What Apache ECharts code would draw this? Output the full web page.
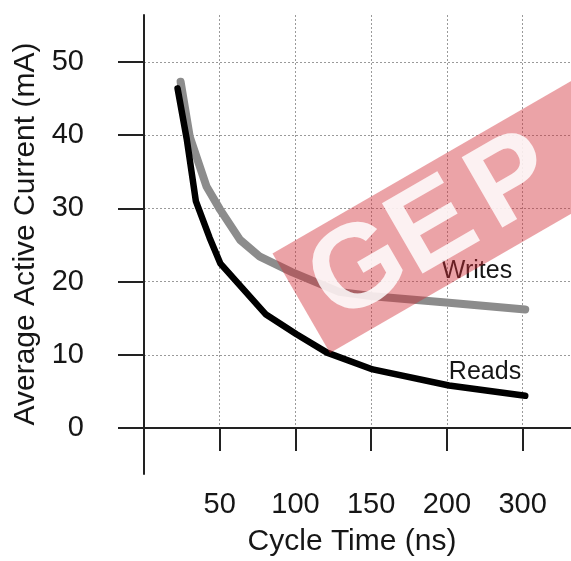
<!DOCTYPE html>
<html>
<head>
<meta charset="utf-8">
<script src="https://cdn.jsdelivr.net/npm/echarts@6/dist/echarts.min.js"></script>
<style>
html,body{margin:0;padding:0;background:#fff;overflow:hidden;}
#c{width:582px;height:561px;}
</style>
</head>
<body>
<div id="c"></div>
<script>
// ---- data ----
const xTickLabels = ['', '50', '100', '150', '200', '300'];
const yTicks = [0, 10, 20, 30, 40, 50];
const readsNs = [22, 28, 34, 43, 50, 80, 100, 120, 150, 200, 300];
const readsMa = [46.4, 39.5, 31.0, 26.0, 22.5, 15.5, 12.8, 10.3, 8.0, 5.8, 4.4];
const writesNs = [24, 30, 41, 50, 63, 76, 97, 128, 150, 200, 300];
const writesMa = [47.3, 39.8, 33.0, 29.8, 25.7, 23.4, 21.3, 18.6, 18.0, 17.1, 16.2];
const seriesNames = ['Reads', 'Writes'];
const watermarkLetters = ['G', 'E', 'P'];

// the axis is evenly spaced per tick label (0,50,100,150,200,300)
function axisPos(ns) { return ns <= 200 ? ns / 50 : 4 + (ns - 200) / 100; }
function pairs(xs, ys) { return xs.map((x, i) => [axisPos(x), ys[i]]); }

const FONT = 'Liberation Sans';
const TXT = '#161616';
const gridLine = { show: true, lineStyle: { color: '#9a9a9a', width: 1, type: [2, 2] } };
const L = 144, R = 0, XMAX = (582 - 144) / 76.25;

const chart = echarts.init(document.getElementById('c'), null, { renderer: 'canvas' });
chart.setOption({
  animation: false,
  backgroundColor: '#fff',
  grid: [
    { left: L, right: R, top: 15, bottom: 87 },   // y axis line extent
    { left: L, right: R, top: 15, bottom: 133 },  // vertical grid + x axis
    { left: L, right: R, top: 62, bottom: 133 }   // y scale 0..50 + series
  ],
  xAxis: [
    { gridIndex: 0, type: 'value', min: 0, max: XMAX, show: false },
    { gridIndex: 1, type: 'value', min: 0, max: XMAX, interval: 1,
      axisLine: { show: true, onZero: false, lineStyle: { color: '#222', width: 2 } },
      axisTick: { show: true, length: 23, lineStyle: { color: '#222', width: 2 } },
      splitLine: gridLine,
      axisLabel: { margin: 62, fontFamily: FONT, fontSize: 29, color: TXT,
        showMinLabel: true, showMaxLabel: true,
        formatter: v => (Number.isInteger(v) && xTickLabels[v]) ? xTickLabels[v] : '' }
    },
    { gridIndex: 2, type: 'value', min: 0, max: XMAX, show: false }
  ],
  yAxis: [
    { gridIndex: 0, type: 'value', min: 0, max: 1,
      axisLine: { show: true, onZero: false, lineStyle: { color: '#222', width: 2 } },
      axisTick: { show: false }, axisLabel: { show: false }, splitLine: { show: false } },
    { gridIndex: 1, type: 'value', min: 0, max: 1, show: false },
    { gridIndex: 2, type: 'value', min: yTicks[0], max: yTicks[yTicks.length - 1], interval: 10,
      axisLine: { show: false, onZero: false },
      axisTick: { show: true, length: 26, lineStyle: { color: '#222', width: 2 } },
      splitLine: gridLine,
      axisLabel: { margin: 60, fontFamily: FONT, fontSize: 29, color: TXT } }
  ],
  series: [
    { name: seriesNames[0], type: 'line', xAxisIndex: 2, yAxisIndex: 2,
      data: pairs(readsNs, readsMa), symbol: 'none', z: 4,
      lineStyle: { color: '#000', width: 6.5, cap: 'round', join: 'round' } },
    { name: seriesNames[1], type: 'line', xAxisIndex: 2, yAxisIndex: 2,
      data: pairs(writesNs, writesMa), symbol: 'none', z: 3,
      lineStyle: { color: '#8c8c8c', width: 8, cap: 'round', join: 'round' } }
  ],
  graphic: [
    { type: 'text', z: 10, x: 26, y: 234, rotation: Math.PI / 2,
      style: { text: 'Average Active Current (mA)', x: 0, y: 0, align: 'center', verticalAlign: 'middle',
        font: '30px "' + FONT + '"', fill: TXT } },
    { type: 'text', z: 10, x: 352, y: 542,
      style: { text: 'Cycle Time (ns)', x: 0, y: 0, align: 'center', verticalAlign: 'middle',
        font: '30px "' + FONT + '"', fill: TXT } },
    { type: 'text', z: 10, x: 477, y: 271,
      style: { text: seriesNames[1], x: 0, y: 0, align: 'center', verticalAlign: 'middle',
        font: '25px "' + FONT + '"', fill: TXT } },
    { type: 'text', z: 10, x: 485, y: 372,
      style: { text: seriesNames[0], x: 0, y: 0, align: 'center', verticalAlign: 'middle',
        font: '25px "' + FONT + '"', fill: TXT } },
    { type: 'group', x: 330, y: 353, rotation: Math.PI / 6, z: 100,
      children: [
        { type: 'rect', z: 100, shape: { x: 0, y: -115, width: 420, height: 115 },
          style: { fill: 'rgba(210,45,55,0.44)' } }
      ].concat(watermarkLetters.map((ch, i) => ({
        type: 'text', z: 101,
        style: { text: ch, x: 20 + i * 92, y: -55, align: 'left', verticalAlign: 'middle',
          font: 'bold 118px "' + FONT + '"', fill: 'rgba(255,255,255,0.85)' }
      })))
    }
  ]
});
</script>
</body>
</html>
